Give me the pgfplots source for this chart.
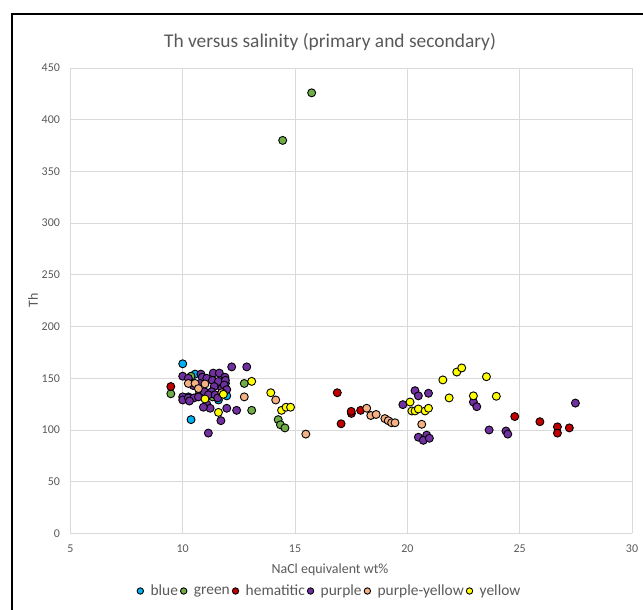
\documentclass[border=0pt]{standalone}
\usepackage{pgfplots}
\pgfplotsset{compat=1.18}
\usepackage{fontspec}
\setmainfont{Carlito}
\definecolor{txt}{RGB}{89,89,89}
\definecolor{cblue}{RGB}{0,176,240}
\definecolor{cgreen}{RGB}{112,173,71}
\definecolor{cred}{RGB}{192,0,0}
\definecolor{cpurple}{RGB}{112,48,160}
\definecolor{cpeach}{RGB}{244,177,131}
\definecolor{cyellow}{RGB}{255,255,0}
\definecolor{gridc}{RGB}{217,217,217}
\begin{document}
\begin{tikzpicture}
\begin{axis}[
  at={(70.4bp,76.6bp)}, anchor=south west,
  scale only axis, width=561.6bp, height=465.4bp,
  xmin=5, xmax=30, ymin=0, ymax=450,
  xtick={5,10,...,30}, ytick={0,50,...,450},
  grid=major, major grid style={gridc, line width=0.9bp},
  axis line style={draw=none}, tick style={draw=none},
  /pgf/number format/assume math mode=true,
  ticklabel style={font=\fontsize{12}{14}\selectfont, text=txt},
  xticklabel style={yshift=-8bp},
  yticklabel style={xshift=-7bp},
  title={Th versus salinity (primary and secondary)},
  title style={at={(axis description cs:0.4623,1)}, anchor=center, yshift=20bp, font=\fontsize{19.5}{22}\selectfont, text=txt},
  xlabel={NaCl equivalent wt\%},
  xlabel style={at={(axis description cs:0.4623,0)}, anchor=base, yshift=-39.6bp, font=\fontsize{14}{16}\selectfont, text=txt},
  ylabel={Th},
  ylabel style={at={([xshift=-37.4bp]axis description cs:0,0.5)}, anchor=center, font=\fontsize{14}{16}\selectfont, text=txt},
  legend columns=6,
  legend style={at={(axis description cs:0.4623,0)}, anchor=center, yshift=-57.6bp, draw=none, fill=none,
    font=\fontsize{15.5}{18}\selectfont, text=txt, nodes={inner xsep=2.5bp},
    /tikz/every odd column/.append style={column sep=4.5bp}},
  legend image code/.code={\draw[#1, mark size=3.2bp] plot coordinates {(0.14cm,0cm)};},
  every axis plot/.append style={only marks, mark=*, mark size=4.0bp},
]
\addplot[mark options={fill=cblue, draw=black, line width=0.9bp}] coordinates {
(10.0,164) (10.55,154) (10.37,110) (11.96,133) (11.59,129) (10.25,132) (11.9,145)
};
\addlegendentry{blue}
\addplot[mark options={fill=cgreen, draw=black, line width=0.9bp}] coordinates {
(9.47,135) (10.37,152) (10.74,135) (11.33,132) (12.74,145) (13.07,119)
(14.25,110) (14.35,105) (14.55,102) (14.45,380) (15.74,426)
};
\addlegendentry{green}
\addplot[mark options={fill=cred, draw=black, line width=0.9bp}] coordinates {
(9.47,142) (16.88,136) (17.05,106) (17.51,116) (17.5,118) (17.92,119)
(24.78,113) (25.9,108) (26.68,103) (26.68,97) (27.21,102)
};
\addlegendentry{hematitic}
\addplot[mark options={fill=cpurple, draw=black, line width=0.9bp}] coordinates {
(10.0,152) (10.25,150) (10.81,154) (10.87,151) (11.07,150) (11.36,155) (11.63,155)
(11.32,148) (11.59,147) (11.88,151) (11.9,148) (10.47,143) (10.77,145) (11.4,142)
(11.74,140) (11.85,143.5) (11.96,139) (10.0,132) (10.0,129) (10.25,131) (10.5,131)
(10.7,132) (10.3,128) (10.96,137) (11.29,137) (11.14,134) (11.44,134) (11.56,131)
(11.07,125) (11.22,121) (10.92,122) (11.96,121) (12.4,119) (11.7,109) (11.14,97)
(12.18,161) (12.85,161)
(19.8,124.5) (20.34,138) (20.49,133) (20.94,135.5) (20.49,93) (20.86,95) (20.71,90)
(20.98,92) (22.94,127) (23.09,122.5) (23.64,100) (24.39,99) (24.47,96) (27.48,126)
};
\addlegendentry{purple}
\addplot[mark options={fill=cpeach, draw=black, line width=0.9bp}] coordinates {
(10.25,145) (10.55,145) (10.7,140) (10.99,144.5) (11.74,136) (12.74,132) (14.14,129)
(15.48,96) (18.19,121) (18.37,114) (18.61,115) (19.0,111) (19.15,109) (19.3,107)
(19.45,107) (20.64,105.5)
};
\addlegendentry{purple-yellow}
\addplot[mark options={fill=cyellow, draw=black, line width=0.9bp}] coordinates {
(10.99,130) (11.81,134.5) (11.59,117) (13.07,147) (13.92,136) (14.4,119) (14.6,122)
(14.8,122) (20.12,127) (20.2,118.4) (20.34,118.4) (20.49,120.3) (20.79,118.4)
(20.94,121) (21.58,148.4) (21.86,131) (22.2,156) (22.42,160) (22.94,133) (23.52,151.5)
(23.96,132.6)
};
\addlegendentry{yellow}
\end{axis}
\draw[line width=2.5bp] (12bp,-5bp) -- (12bp,596bp) -- (660bp,596bp);
\pgfresetboundingbox
\path[use as bounding box] (0,0) rectangle (643bp,610bp);
\end{tikzpicture}
\end{document}
